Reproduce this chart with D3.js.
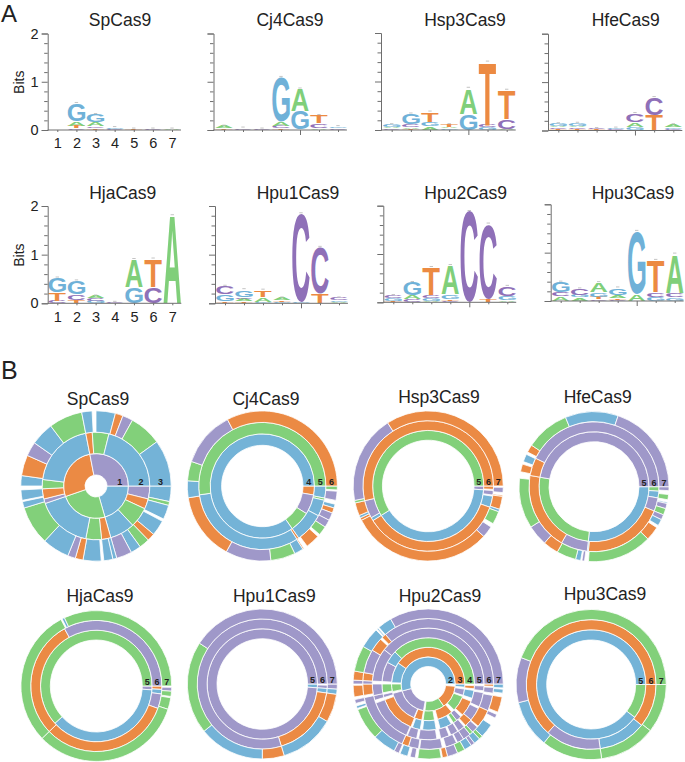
<!DOCTYPE html>
<html><head><meta charset="utf-8">
<script src="https://cdn.jsdelivr.net/npm/d3@7"></script>
<style>html,body{margin:0;padding:0;background:#fff}svg{display:block}text{font-family:"Liberation Sans",Arial,sans-serif}</style>
</head><body><svg id="c" width="685" height="762"></svg>
<script>
// ---------- sequence logo data: per position, bottom-to-top [base, bits]
const positions=[1,2,3,4,5,6,7];
const bitTicks=[0,.2,.4,.6,.8,1,1.2,1.4,1.6,1.8,2];
const spLogo=[[],[["C",.03],["T",.05],["A",.1],["G",.37]],[["T",.03],["C",.04],["A",.08],["G",.17]],[["C",.02],["G",.03]],[["T",.02]],[["C",.02]],[["A",.02]]];
const cj4Logo=[[["T",.03],["A",.05]],[["C",.04]],[["C",.02]],[["T",.03],["C",.05],["A",.08],["G",.93]],[["G",.38],["A",.47]],[["A",.03],["C",.1],["T",.17]],[["C",.04],["G",.03]]];
const hsp3Logo=[[["C",.03],["A",.03],["G",.05]],[["T",.02],["A",.04],["C",.05],["G",.22]],[["A",.07],["G",.1],["T",.2]],[["G",.04],["A",.02],["T",.05]],[["G",.33],["A",.53]],[["G",.05],["C",.05],["T",1.3]],[["A",.02],["C",.2],["T",.6]]];
const hfeLogo=[[["T",.02],["C",.04],["A",.03],["G",.05]],[["T",.02],["C",.04],["A",.02],["G",.07]],[["T",.02],["C",.02]],[["C",.02],["G",.03]],[["G",.07],["A",.1],["C",.18]],[["T",.32],["C",.36]],[["C",.03],["G",.04],["A",.05]]];
const hjaLogo=[[["C",.05],["T",.17],["G",.3]],[["T",.06],["C",.12],["G",.28]],[["G",.05],["C",.05],["A",.05]],[["C",.02]],[["G",.32],["A",.58]],[["C",.33],["T",.58]],[["A",1.8]]];
const hpu1Logo=[[["T",.03],["G",.15],["C",.17]],[["T",.04],["A",.05],["C",.04],["G",.15]],[["G",.03],["A",.09],["T",.15]],[["G",.03],["T",.03],["A",.05]],[["G",.02],["C",1.82]],[["T",.2],["C",.95]],[["A",.03],["G",.03],["C",.05]]];
const hpu2Logo=[[["T",.03],["G",.05],["C",.06]],[["C",.06],["A",.08],["G",.27]],[["A",.02],["G",.06],["C",.06],["T",.58]],[["C",.03],["T",.03],["G",.1],["A",.6]],[["C",1.88]],[["T",.07],["C",1.55]],[["A",.04],["G",.09],["C",.2]]];
const hpu3Logo=[[["A",.09],["C",.08],["G",.22]],[["A",.07],["G",.05],["C",.13]],[["C",.03],["T",.05],["G",.1],["A",.2]],[["C",.02],["T",.04],["A",.06],["G",.15]],[["A",.14],["G",1.3]],[["G",.08],["C",.1],["T",.66]],[["G",.07],["C",.1],["A",.8]]];

// ---------- sunburst data: per ring, clockwise from 3 o'clock [base, degrees] ("_" = empty)
const spRings=[
[["B",74],["G",87],["O",98],["P",101]],
[["P",14],["O",11],["G",22],["B",27],["O",10],["G",17],["B",60],["P",5],["O",11],["G",10],["B",72],["O",7],["G",18],["B",76]],
[["B",12],["G",3],["B",11],["_",2],["B",12],["O",6],["G",8],["B",8],["P",12],["B",3],["B",7],["_",2],["B",14],["O",6],["P",6],["B",21],["G",30],["B",5],["_",1],["B",8],["_",3],["B",8],["O",16],["P",11],["B",18],["G",26],["B",8],["_",3],["B",15],["O",6],["P",8],["G",25],["B",36]]];
const cj4Rings=[
[["O",10],["P",22],["G",23],["B",305]],
[["B",11],["G",2],["B",15],["B",27],["O",2],["B",115],["G",188]],
[["G",3],["_",1],["P",7],["_",3],["B",3],["O",4],["P",6],["P",6],["G",7],["_",2],["O",11],["_",3],["O",1],["B",7],["G",19],["P",35],["O",52],["B",13],["G",15],["P",43],["O",117]]];
const hsp3Rings=[
[["P",4],["B",144],["G",212]],
[["O",3],["_",1],["P",4],["_",1],["B",10],["O",129],["B",3],["P",16],["O",193]],
[["_",1],["P",4],["_",2],["O",1],["O",10],["B",2],["G",10],["_",3],["P",9],["O",110],["O",2],["B",2],["O",10],["G",2],["P",68],["O",122]]];
const hfeRings=[
[["B",96],["G",94],["P",170]],
[["G",4],["B",6],["P",12],["O",73],["B",1],["P",24],["O",70],["O",16],["P",154]],
[["P",3],["_",3],["G",4],["_",2],["B",1],["P",4],["G",5],["P",4],["B",5],["_",2],["O",11],["G",50],["_",3],["P",2],["_",1],["B",4],["G",15],["O",12],["P",16],["G",39],["_",5],["O",6],["_",2],["B",6],["_",2],["O",6],["G",34],["B",41],["P",71]]];
const hjaRings=[
[["P",4],["B",134],["G",222]],
[["O",3],["B",4],["P",13],["O",116],["O",105],["P",119]],
[["_",1],["P",3],["G",4],["_",1],["G",9],["G",118],["G",106],["_",1],["B",2],["G",115]]];
const hpu1Rings=[
[["B",4],["P",356]],
[["_",1],["P",3],["B",4],["O",65],["P",287]],
[["P",4],["B",4],["O",22],["B",43],["O",17],["B",51],["G",72],["P",147]]];
const hpu2Rings=[
[["_",5],["O",50],["G",42],["_",3],["P",65],["B",195]],
[["B",5],["_",3],["P",10],["_",2],["G",25],["_",5],["O",25],["_",5],["G",18],["_",2],["O",12],["_",1],["P",52],["_",3],["G",12],["_",2],["B",33],["O",145]],
[["_",2],["O",4],["_",2],["B",10],["_",4],["O",20],["_",3],["P",7],["G",5],["_",3],["B",15],["_",5],["B",17],["_",3],["B",10],["_",2],["O",48],["_",3],["P",4],["_",2],["G",11],["_",3],["P",25],["B",16],["G",136]],
[["_",2],["P",5],["_",2],["P",15],["_",2],["P",14],["O",8],["_",2],["P",7],["_",1],["P",8],["_",2],["P",9],["_",4],["P",19],["_",2],["P",10],["_",1],["P",47],["_",3],["P",5],["P",12],["_",3],["P",35],["P",142]],
[["O",2],["_",1],["P",5],["_",2],["P",14],["O",16],["_",1],["P",6],["G",3],["P",7],["P",6],["_",1],["P",10],["_",3],["P",20],["_",1],["P",9],["O",6],["P",54],["_",2],["O",10],["P",3],["O",7],["P",21],["O",12],["_",2],["O",4],["P",130]],
[["B",3],["_",1],["B",3],["_",3],["O",12],["_",2],["P",3],["_",6],["B",11],["G",3],["B",5],["P",3],["B",6],["G",6],["P",8],["O",4],["_",1],["G",18],["_",2],["P",4],["_",2],["B",6],["_",1],["P",4],["B",18],["G",25],["_",1],["B",2],["_",2],["P",3],["_",2],["O",9],["_",1],["P",3],["O",7],["G",20],["B",16],["_",1],["B",1],["_",1],["B",11],["P",120]]];
const hpu3Rings=[
[["G",37],["B",323]],
[["O",39],["B",43],["P",50],["O",228]],
[["G",38],["G",44],["G",47],["B",37],["P",35],["G",159]]];

const logoTitles=["SpCas9","Cj4Cas9","Hsp3Cas9","HfeCas9","HjaCas9","Hpu1Cas9","Hpu2Cas9","Hpu3Cas9"];
const logoData=[spLogo,cj4Logo,hsp3Logo,hfeLogo,hjaLogo,hpu1Logo,hpu2Logo,hpu3Logo];
const ringData=[spRings,cj4Rings,hsp3Rings,hfeRings,hjaRings,hpu1Rings,hpu2Rings,hpu3Rings];

// ---------- layout
const logoFrames=[
{ax:47.7,p1:57.3,p7:172,y0:130,y2:33.5,tx:120,ty:26,lab:true},
{ax:213.5,p1:224,p7:338,y0:130,y2:33.5,tx:290,ty:26},
{ax:381,p1:391.7,p7:506.7,y0:130,y2:33,tx:465,ty:26},
{ax:548,p1:558.3,p7:673.3,y0:130.5,y2:33.7,tx:625.7,ty:26},
{ax:47.7,p1:57.3,p7:172.3,y0:303.3,y2:206,tx:122.7,ty:199,lab:true},
{ax:215,p1:225,p7:339,y0:303.3,y2:206,tx:298,ty:199},
{ax:383.3,p1:393.3,p7:507.3,y0:302.3,y2:205.7,tx:465.7,ty:199},
{ax:550.7,p1:560.7,p7:674.7,y0:301,y2:204.3,tx:633,ty:199}];
const ringFrames=[
{cx:96,cy:486,r0:11,w:21.4,tx:98,ty:405,first:1},
{cx:262.3,cy:486,r0:40.7,w:11.45,tx:266,ty:405,first:4},
{cx:428.2,cy:486,r0:45.8,w:9.75,tx:439,ty:403,first:5},
{cx:594,cy:486.7,r0:45,w:10,tx:597.7,ty:402.7,first:5},
{cx:96.3,cy:686,r0:46,w:9.8,tx:100,ty:601.7,first:5},
{cx:262.3,cy:684,r0:45.3,w:9.9,tx:274.3,ty:601.7,first:5},
{cx:428.2,cy:684,r0:17.5,w:9.6,tx:440,ty:601.7,first:2},
{cx:591.2,cy:684.5,r0:44.5,w:10.2,tx:605,ty:600,first:5}];

const svg=d3.select("#c");
const logoColor={A:"#80CF7A",C:"#8F70B8",G:"#6FB1D8",T:"#EC8A42"};
const ringColor={B:"#74B3D7",G:"#82D07A",O:"#EB8A44",P:"#9F98C9"};
const FONT="bold 100px 'Liberation Sans'";
const mctx=document.createElement("canvas").getContext("2d");mctx.font=FONT;
const glyph={};"ACGT".split("").forEach(l=>{const m=mctx.measureText(l);glyph[l]={l:-m.actualBoundingBoxLeft,r:m.actualBoundingBoxRight,a:m.actualBoundingBoxAscent,d:m.actualBoundingBoxDescent}});
const LETTER_W=17.4, AXIS="#6e6e6e";

svg.append("text").attr("x",1).attr("y",21.7).attr("font-size",24).attr("fill","#222").text("A");
svg.append("text").attr("x",1).attr("y",379).attr("font-size",25).attr("fill","#222").text("B");

logoFrames.forEach((f,i)=>{
  const x=d3.scaleLinear().domain([1,7]).range([f.p1,f.p7]);
  const y=d3.scaleLinear().domain([0,2]).range([f.y0,f.y2]);
  const g=svg.append("g");
  g.append("text").attr("x",f.tx).attr("y",f.ty).attr("text-anchor","middle").attr("font-size",17.5).attr("fill","#222").text(logoTitles[i]);
  logoData[i].forEach((stack,pi)=>{
    let acc=0;
    const cg=g.append("g");
    stack.forEach(([b,v])=>{
      const gm=glyph[b],yb=y(acc),yt=y(acc+v),sx=LETTER_W/(gm.r-gm.l),sy=Math.max(yb-yt-.5,1)/(gm.a+gm.d);
      cg.append("text").text(b).attr("font-size",100).attr("font-weight","bold").attr("fill",logoColor[b])
        .attr("transform",`translate(${x(positions[pi])-LETTER_W/2-gm.l*sx},${yb-.25-gm.d*sy}) scale(${sx},${sy})`);
      acc+=v;
    });
    if(acc>0) cg.append("line").attr("x1",x(positions[pi])-1.7).attr("x2",x(positions[pi])+1.7).attr("y1",y(acc)-1).attr("y2",y(acc)-1).attr("stroke","#c4c4c4").attr("stroke-width",1);
  });
  const ya=g.append("g").attr("transform",`translate(${f.ax},0)`).call(d3.axisLeft(y).tickValues(bitTicks).tickSize(6).tickPadding(3).tickFormat(d=>f.lab&&Number.isInteger(d)?d:""));
  ya.select(".domain").attr("stroke",AXIS).attr("stroke-width",1);
  ya.selectAll(".tick line").attr("stroke",AXIS).attr("x2",d=>Number.isInteger(d)?-6:-3.5);
  ya.selectAll("text").attr("font-size",14.5).attr("fill","#222").attr("font-family",null);
  ya.selectAll("text").filter(function(){return !this.textContent}).remove();
  const xa=g.append("g").attr("transform",`translate(0,${f.y0})`).call(d3.axisBottom(x).tickValues(positions).tickSize(2).tickPadding(6).tickFormat(d=>f.lab?d:""));
  xa.select(".domain").remove();
  xa.selectAll(".tick line").attr("stroke",AXIS).attr("y2",d=>(!f.lab&&d===5)?5:2);
  xa.selectAll("text").attr("font-size",14.5).attr("fill","#222").attr("font-family",null);
  xa.selectAll("text").filter(function(){return !this.textContent}).remove();
  g.append("line").attr("x1",f.ax).attr("x2",x(7.47)).attr("y1",f.y0).attr("y2",f.y0).attr("stroke",AXIS).attr("stroke-width",1);
  if(f.lab) g.append("text").attr("transform",`translate(24,${y(1)+.5}) rotate(-90)`).attr("text-anchor","middle").attr("font-size",14).attr("fill","#222").text("Bits");
});

const pie=d3.pie().sort(null).value(d=>d[1]).startAngle(Math.PI/2).endAngle(Math.PI*2.5);
ringFrames.forEach((f,i)=>{
  const g=svg.append("g");
  g.append("text").attr("x",f.tx).attr("y",f.ty).attr("text-anchor","middle").attr("font-size",17.5).attr("fill","#222").text(logoTitles[i]);
  const c=g.append("g").attr("transform",`translate(${f.cx},${f.cy})`);
  ringData[i].forEach((ring,ri)=>{
    const arc=d3.arc().innerRadius(f.r0+ri*f.w).outerRadius(f.r0+(ri+1)*f.w);
    c.append("g").selectAll("path").data(pie(ring).filter(d=>d.data[0]!=="_")).join("path")
      .attr("d",arc).attr("fill",d=>ringColor[d.data[0]]).attr("stroke","#fff").attr("stroke-width",.8);
  });
  ringData[i].forEach((ring,ri)=>{
    c.append("text").attr("x",f.r0+(ri+.5)*f.w+(i===0&&ri<2?2:0)).attr("y",-1).attr("text-anchor","middle")
      .attr("font-size",9).attr("font-weight","bold").attr("fill","#222").text(f.first+ri);
  });
});
</script></body></html>
